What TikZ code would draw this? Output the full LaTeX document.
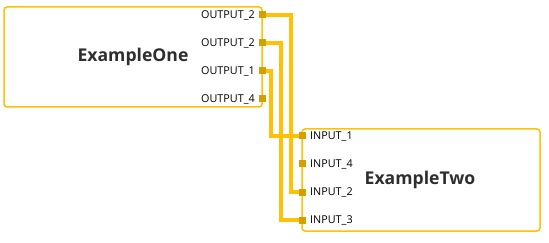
\documentclass[tikz,border=0pt]{standalone}
\usepackage{fontspec}
\setmainfont{Open Sans}
\begin{document}
\begin{tikzpicture}[x=1pt,y=-1pt,
  box/.style={draw=amber,line width=1.5pt,rounded corners=3pt,fill=white,inner sep=0pt},
  port/.style={fill=portcol,minimum size=7pt,inner sep=0pt},
  wire/.style={draw=amber,line width=3.5pt},
  olabel/.style={anchor=east,font=\fontsize{10.8}{12}\selectfont,text=black,inner sep=0pt},
  ilabel/.style={anchor=west,font=\fontsize{10.8}{12}\selectfont,text=black,inner sep=0pt},
  title/.style={font=\fontsize{17.6}{20}\selectfont\bfseries,text=titlecol}]
\definecolor{amber}{HTML}{FFC107}
\definecolor{portcol}{HTML}{D4A000}
\definecolor{titlecol}{HTML}{2E2E2E}
\useasboundingbox (0,0) rectangle (549,243);
\fill[white] (0,0) rectangle (549,243);
% boxes
\node[box,minimum width=258pt,minimum height=100pt] (one) at (133,57) {};
\node[box,minimum width=238pt,minimum height=102pt] (two) at (421,180) {};
\node[title] (onet) at (133,57) {ExampleOne};
\node[title] (twot) at (420,180) {ExampleTwo};
% port coordinates
\coordinate (o1) at (262,15);
\coordinate (o2) at (262,43);
\coordinate (o3) at (262,71);
\coordinate (o4) at (262,99);
\coordinate (i1) at (302,136);
\coordinate (i2) at (302,164);
\coordinate (i3) at (302,192);
\coordinate (i4) at (302,220);
% wires
\draw[wire] (o1) -| ([xshift=-11pt]i3) -- (i3);
\draw[wire] (o2) -| ([xshift=-21pt]i4) -- (i4);
\draw[wire] (o3) -| ([xshift=-31pt]i1) -- (i1);
% ports
\foreach \p in {o1,o2,o3,o4,i1,i2,i3,i4} \node[port] (p\p) at (\p) {};
% labels
\node[olabel] (lo1) at ([xshift=-7pt]o1) {OUTPUT\_2};
\node[olabel] (lo2) at ([xshift=-7pt]o2) {OUTPUT\_2};
\node[olabel] (lo3) at ([xshift=-7pt]o3) {OUTPUT\_1};
\node[olabel] (lo4) at ([xshift=-7pt]o4) {OUTPUT\_4};
\node[ilabel] (li1) at ([xshift=8pt]i1) {INPUT\_1};
\node[ilabel] (li2) at ([xshift=8pt]i2) {INPUT\_4};
\node[ilabel] (li3) at ([xshift=8pt]i3) {INPUT\_2};
\node[ilabel] (li4) at ([xshift=8pt]i4) {INPUT\_3};
\end{tikzpicture}
\end{document}
